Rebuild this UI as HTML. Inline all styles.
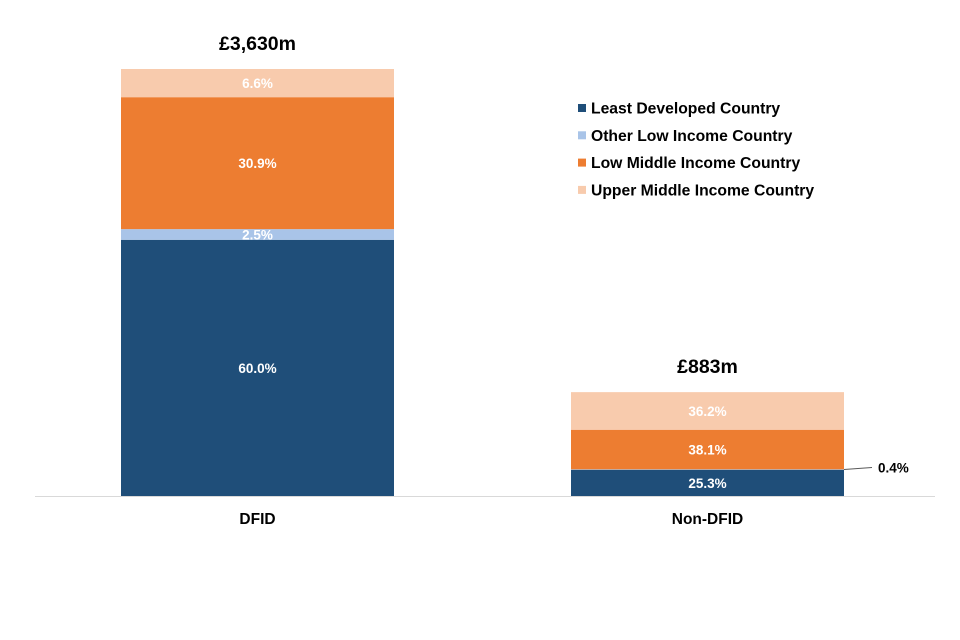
<!DOCTYPE html>
<html><head><meta charset="utf-8"><style>
body{margin:0;background:#fff;}
svg{display:block;font-family:"Liberation Sans",Arial,sans-serif;font-weight:bold;}
</style></head><body>
<svg id="chart" width="960" height="640" viewBox="0 0 960 640">
<line x1="35" y1="496.5" x2="935" y2="496.5" stroke="#d9d9d9" stroke-width="1"/>
<g id="bars"></g>
<g id="legend"></g>
</svg>
<script>
const categories = ["DFID", "Non-DFID"];
const totals = [3630, 883];
const totalLabels = ["£3,630m", "£883m"];
const seriesNames = ["Least Developed Country", "Other Low Income Country", "Low Middle Income Country", "Upper Middle Income Country"];
const ldc = [60.0, 25.3];
const olic = [2.5, 0.4];
const lmic = [30.9, 38.1];
const umic = [6.6, 36.2];
const colors = ["#1f4e79", "#a9c4e8", "#ed7d31", "#f8cbad"];

const series = [ldc, olic, lmic, umic];
const NS = "http://www.w3.org/2000/svg";
const baseY = 496, maxPx = 427, maxTotal = 3630;
const barW = 273, barX0 = [121, 571];
function y(v){ return baseY - v / maxTotal * maxPx; }
function mk(tag, attrs, parent){ const e = document.createElementNS(NS, tag); for (const k in attrs) e.setAttribute(k, attrs[k]); parent.appendChild(e); return e; }
const bars = document.getElementById("bars");
categories.forEach((cat, i) => {
  let cum = 0;
  const x = barX0[i];
  series.forEach((s, j) => {
    const pct = s[i];
    const v0 = cum, v1 = cum + pct / 100 * totals[i];
    cum = v1;
    const r = mk("rect", {x: x, y: y(v1), width: barW, height: y(v0) - y(v1), fill: colors[j]}, bars);
    
    
    const mid = (y(v0) + y(v1)) / 2;
    let t;
    if (pct < 1) {
      const ln = mk("line", {x1: x + barW, y1: mid, x2: x + barW + 28, y2: mid - 2, stroke: "#595959", "stroke-width": 1}, bars);
      
      
      t = mk("text", {x: x + barW + 34, y: mid + 3, "font-size": 13.5, fill: "#000"}, bars);
    } else {
      t = mk("text", {x: x + barW / 2, y: mid + 5, "font-size": 13.5, fill: "#fff", "text-anchor": "middle"}, bars);
    }
    t.textContent = pct.toFixed(1) + "%";
    
    
  });
  const tt = mk("text", {x: x + barW / 2, y: y(totals[i]) - 19, "font-size": 19.5, fill: "#000", "text-anchor": "middle"}, bars);
  tt.textContent = totalLabels[i];
  
  
  const cl = mk("text", {x: x + barW / 2, y: 524, "font-size": 15.5, fill: "#000", "text-anchor": "middle"}, bars);
  cl.textContent = cat;
  
  
});
const lg = document.getElementById("legend");
seriesNames.forEach((n, j) => {
  const yy = 108 + j * 27.3;
  const sq = mk("rect", {x: 578, y: yy - 4, width: 8, height: 8, fill: colors[j]}, lg);
  
  
  const t = mk("text", {x: 591, y: yy + 5.5, "font-size": 15.7, fill: "#000"}, lg);
  t.textContent = n;
  
  
});
</script>
</body></html>
